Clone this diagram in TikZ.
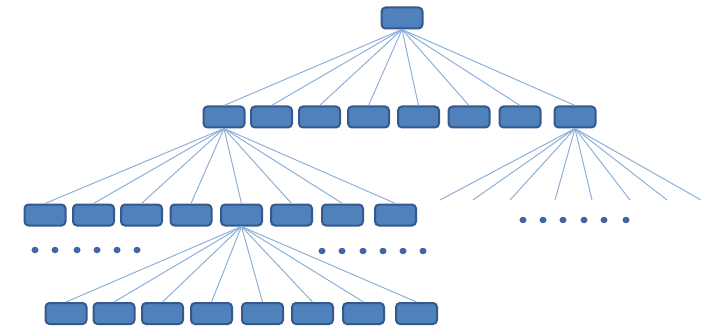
\documentclass[tikz,border=0pt]{standalone}
\usetikzlibrary{shapes.geometric}
\begin{document}
\begin{tikzpicture}[x=1pt,y=-1pt,
  box/.style={draw=boxedge,fill=boxfill,line width=2pt,rounded corners=4pt,minimum width=41pt,minimum height=21pt,inner sep=0pt},
  link/.style={draw=linkblue,line width=1pt},
  dot/.style={ellipse,fill=dotblue,inner sep=0pt,minimum width=7pt,minimum height=6.5pt}]
\definecolor{boxfill}{HTML}{4F81BD}
\definecolor{boxedge}{HTML}{35598A}
\definecolor{linkblue}{HTML}{8DB0DA}
\definecolor{dotblue}{HTML}{3D66A3}
\useasboundingbox (0,0) rectangle (719,331);
% root
\node[box] (r) at (402,18) {};
% level 1
\foreach \x [count=\i] in {224,271.5,319.5,368.5,418.5,469,520,575}
  \node[box] (a\i) at (\x,117) {};
% level 2
\foreach \x [count=\i] in {45,93.5,141.5,191,241.5,291.5,342.5,395.5}
  \node[box] (b\i) at (\x,215) {};
% level 3
\foreach \x [count=\i] in {66,114,162.5,211.5,262.5,312.5,363.5,416.5}
  \node[box] (c\i) at (\x,313.5) {};
% free ends of right subtree
\foreach \x [count=\i] in {440,473,510,555,592,630,667,701}
  \coordinate (e\i) at (\x,200);
% dots
\foreach \x [count=\i] in {35,55,77,97,117,137}
  \node[dot] (dl\i) at (\x,250) {};
\foreach \x [count=\i] in {322,342,363,383,403,423}
  \node[dot] (dr\i) at (\x,251) {};
\foreach \x [count=\i] in {523,543,563,584,604,626}
  \node[dot] (dd\i) at (\x,220) {};
% connectors
\foreach \i in {1,...,8} {
  \draw[link] (r.south) -- (a\i.north);
  \draw[link] (a1.south) -- (b\i.north);
  \draw[link] (b5.south) -- (c\i.north);
  \draw[link] (a8.south) -- (e\i);
}
\end{tikzpicture}
\end{document}
